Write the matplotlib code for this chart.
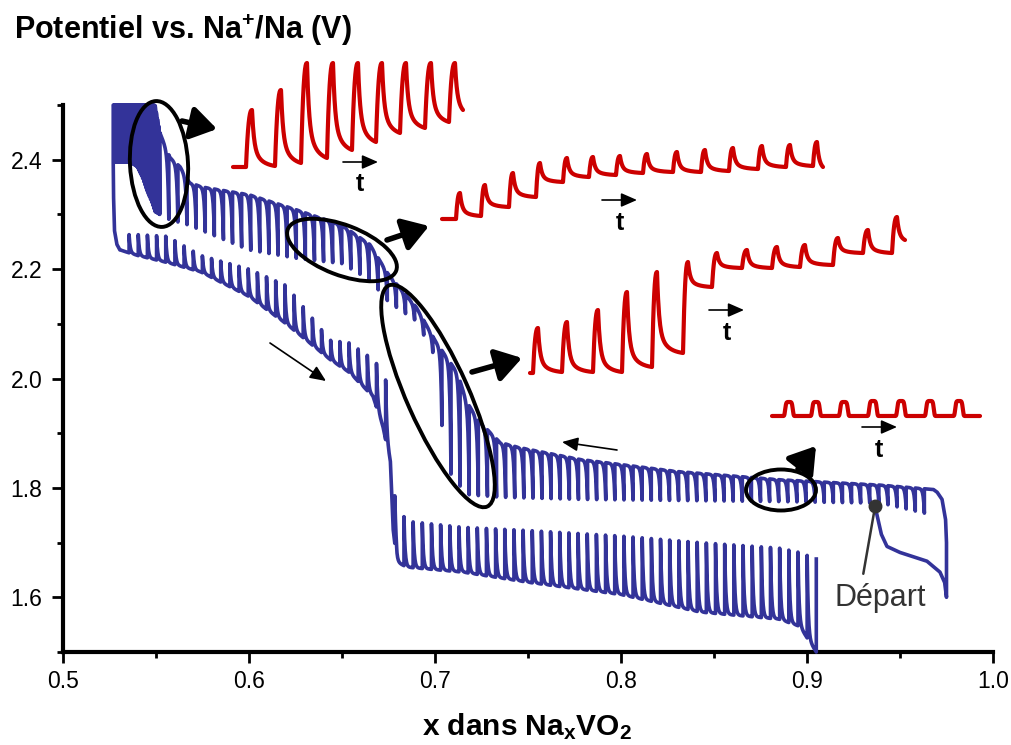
import numpy as np
import matplotlib.pyplot as plt
from matplotlib.patches import Ellipse

plt.rcParams['font.family'] = ['Liberation Sans', 'DejaVu Sans']
plt.rcParams['mathtext.fontset'] = 'custom'
plt.rcParams['mathtext.rm'] = 'Liberation Sans'
plt.rcParams['mathtext.bf'] = 'Liberation Sans:bold'
plt.rcParams['mathtext.it'] = 'Liberation Sans:italic'

BLUE = '#333399'
RED = '#cc0000'
W, H = 1011, 745

# ---------------------------------------------------------------
# GITT curve (x in Na_xVO2, potential in V)
# ---------------------------------------------------------------
# first discharge from the starting point ("Départ") then start of charge
dep_x = [0.9366, 0.938, 0.940, 0.943, 0.950, 0.9645, 0.9715, 0.974, 0.975,
         0.975, 0.9745, 0.9726, 0.970, 0.968]
dep_v = [1.766, 1.745, 1.715, 1.693, 1.682, 1.666, 1.646, 1.627, 1.600,
         1.700, 1.742, 1.779, 1.792, 1.797]

# charge (upper branch): potential under current and relaxed potential
up_x = [0.527, 0.536, 0.540, 0.5425, 0.545, 0.548, 0.5495, 0.552, 0.5575,
        0.563, 0.568, 0.575, 0.600, 0.625, 0.650, 0.665, 0.675, 0.690,
        0.700, 0.706, 0.712, 0.717, 0.723, 0.728, 0.735, 0.745, 0.778,
        0.830, 0.885, 0.940, 0.968]
up_top = [2.50, 2.50, 2.50, 2.50, 2.50, 2.50, 2.50, 2.45, 2.404,
          2.387, 2.358, 2.35, 2.336, 2.309, 2.28, 2.245, 2.19, 2.13,
          2.07, 2.04, 2.011, 1.958, 1.925, 1.907, 1.883, 1.874, 1.852,
          1.83, 1.815, 1.805, 1.797]
up_rest = [2.396, 2.396, 2.387, 2.369, 2.345, 2.32, 2.305, 2.30, 2.29,
           2.285, 2.28, 2.27, 2.235, 2.22, 2.21, 2.18, 2.14, 2.105,
           2.04, 1.837, 1.81, 1.788, 1.786, 1.785, 1.783, 1.782, 1.779,
           1.777, 1.775, 1.772, 1.75]
up_n_pulses = 85        # regular pulses between 0.968 and 0.552
up_n_dense = 41         # short pulses at the 2.5 V cut-off

# discharge (lower branch): potential under current and relaxed potential
lo_start_x = [0.527, 0.5272, 0.5277, 0.529, 0.5306]
lo_start_v = [2.396, 2.33, 2.27, 2.245, 2.235]
lo_x = [0.5306, 0.540, 0.556, 0.574, 0.600, 0.620, 0.6435, 0.654, 0.6667,
        0.672, 0.676, 0.6775, 0.6796, 0.685, 0.715, 0.751, 0.800, 0.8425,
        0.885, 0.896, 0.905]
lo_base = [2.235, 2.225, 2.212, 2.195, 2.15, 2.10, 2.035, 2.011, 1.967,
           1.912, 1.847, 1.724, 1.664, 1.655, 1.646, 1.627, 1.605, 1.573,
           1.56, 1.547, 1.50]
lo_top = [2.263, 2.263, 2.26, 2.225, 2.20, 2.17, 2.07, 2.065, 2.035,
          2.013, 1.97, 1.80, 1.766, 1.739, 1.728, 1.722, 1.712, 1.70,
          1.69, 1.682, 1.67]
lo_n_pulses = 76

start_point = (0.9366, 1.766)

# ---------------------------------------------------------------
# red zoomed transients (figure pixels)
# ---------------------------------------------------------------
ins1_start = (233, 167)
ins1_px = [252, 281, 307, 333, 358, 382, 406, 431, 455]
ins1_peak = [110, 90, 63, 63, 63, 63, 63, 63, 63]
ins1_rest = [167, 166, 163, 158, 150, 142, 133, 128, 122]
ins1_end = (463, 110)

ins2_start = (442, 219)
ins2_px = [460, 485, 513, 540, 567, 593, 620, 647, 677, 705, 733, 762, 790, 817]
ins2_peak = [193, 185, 173, 163, 158, 157, 156, 154, 152, 150, 148, 146, 145, 142]
ins2_rest = [219, 216, 207, 197, 182, 177, 175, 173, 172, 172, 171, 169, 167, 166]
ins2_end = (823, 167)

ins3_start = (530, 373)
ins3_px = [538, 567, 598, 627, 657, 688, 717, 747, 777, 805, 838, 868, 897]
ins3_peak = [328, 322, 310, 292, 272, 262, 253, 250, 247, 245, 238, 230, 217]
ins3_rest = [373, 372, 372, 372, 367, 353, 287, 268, 268, 267, 265, 253, 253]
ins3_end = (905, 240)

ins4_span = (772, 980)
ins4_base = 416
ins4_px = [789, 816, 844, 873, 901, 930, 959]
ins4_peak = [402, 402, 402, 401, 401, 401, 401]

# annotations (figure pixels)
ellipses = [((159, 164), 126, 58, 87), ((342, 250), 116, 50, 21),
            ((438, 396), 242, 62, 66), ((781, 490), 70, 41, 0)]
thick_arrows = [((182, 121), (217, 129)), ((387, 240), (429, 226)),
                ((472, 372), (522, 358)), ((798, 469), (816, 446))]
thin_arrows = [((270, 343), (326, 381)), ((617, 450), (562, 442))]
t_arrows = [((343, 162), (378, 162)), ((602, 200), (637, 200)),
            ((709, 310), (744, 310)), ((862, 427), (897, 427))]
t_labels = [(360, 184), (620, 223), (727, 333), (879, 450)]


def pulsed_branch(edges, env_x, drive_env, rest_env, v_first):
    """Each pulse relaxes instantly at its end (vertical segment)."""
    xs, vs = [], []
    for k in range(len(edges) - 1):
        xa, xb = edges[k], edges[k + 1]
        s = np.linspace(0, 1, 30)
        xx = xa + (xb - xa) * s
        drive = np.interp(xx, env_x, drive_env)
        v0 = v_first if k == 0 else np.interp(xa, env_x, rest_env)
        vv = v0 + (drive - v0) * (1 - np.exp(-s / 0.12))
        xs += list(xx) + [xb]
        vs += list(vv) + [np.interp(xb, env_x, rest_env)]
    return xs, vs


def spike_trace(start, px, peak, rest, end, rise_w, fast, tau1, tau2):
    xs, ys = [start[0]], [start[1]]
    for k in range(len(px)):
        u = np.linspace(0, 1, 10)
        xs += list(px[k] - rise_w + rise_w * u)
        ys += list(rest[k] + (peak[k] - rest[k]) * (1 - (1 - u) ** 2.5))
        if k + 1 < len(px):
            x_next, r_next = px[k + 1] - rise_w, rest[k + 1]
        else:
            x_next, r_next = end
        T = x_next - px[k]
        t = np.linspace(0, T, 50)
        g = fast * np.exp(-t / tau1) + (1 - fast) * np.exp(-t / tau2)
        gT = fast * np.exp(-T / tau1) + (1 - fast) * np.exp(-T / tau2)
        f = (g - gT) / (1 - gT)
        xs += list(px[k] + t)
        ys += list(r_next + (peak[k] - r_next) * f)
    return xs, ys


fig = plt.figure(figsize=(W / 100, H / 100), dpi=100)
ax = fig.add_axes([63 / W, 1 - 652 / H, 930 / W, (652 - 105) / H])

# charge branch (x decreasing), then discharge branch (x increasing)
up_edges = list(np.linspace(0.968, 0.552, up_n_pulses + 1)) + \
    list(np.linspace(0.552, 0.527, up_n_dense + 1)[1:])
cx, cv = pulsed_branch(up_edges, up_x, up_top, up_rest, up_top[-1])
lo_edges = list(np.linspace(lo_x[0], lo_x[-1], lo_n_pulses + 1))
dx, dv = pulsed_branch(lo_edges, lo_x, lo_base, lo_top, lo_base[0])

all_x = dep_x + cx + lo_start_x + dx
all_v = dep_v + cv + lo_start_v + dv
ax.plot(all_x, all_v, color=BLUE, lw=2.6, solid_joinstyle='round', clip_on=False, zorder=3)

ax.plot(*start_point, 'o', ms=9, color='#333333', zorder=4)
ax.annotate('Départ', xy=start_point, xytext=(0.9392, 1.598), textcoords='data',
            ha='center', va='center', fontsize=22, color='#333333',
            arrowprops=dict(arrowstyle='-', color='#333333', lw=1.8,
                            relpos=(0.3, 1.0), shrinkA=5, shrinkB=0))

ax.set_xlim(0.5, 1.0)
ax.set_ylim(1.5, 2.5)
ax.set_xticks(np.arange(0.5, 1.01, 0.1))
ax.set_xticks(np.arange(0.55, 1.0, 0.1), minor=True)
ax.set_yticks(np.arange(1.6, 2.41, 0.2))
ax.set_yticks(np.arange(1.5, 2.51, 0.2), minor=True)
ax.xaxis.set_major_formatter(plt.FormatStrFormatter('%.1f'))
ax.yaxis.set_major_formatter(plt.FormatStrFormatter('%.1f'))
for side in ['top', 'right']:
    ax.spines[side].set_visible(False)
for side in ['left', 'bottom']:
    ax.spines[side].set_linewidth(3)
ax.tick_params(which='major', length=8, width=2, labelsize=16.5, direction='out')
ax.tick_params(which='minor', length=4, width=2, direction='out')
ax.tick_params(axis='x', which='major', pad=5)
ax.tick_params(axis='y', which='major', pad=7)

fig.text(14 / W, 1 - 30 / H, r'Potentiel vs. Na$^{\mathbf{+}}$/Na (V)',
         fontsize=22, fontweight='bold', ha='left', va='center')
fig.text(527 / W, 1 - 727 / H, r'x dans Na$_{\mathbf{x}}$VO$_{\mathbf{2}}$',
         fontsize=21.5, fontweight='bold', ha='center', va='center')

# overlay in figure pixels for the zoomed transients and annotations
ov = fig.add_axes([0, 0, 1, 1], zorder=5)
ov.set_xlim(0, W)
ov.set_ylim(H, 0)
ov.axis('off')
ov.patch.set_alpha(0)

for args in [(ins1_start, ins1_px, ins1_peak, ins1_rest, ins1_end, 6, 0.65, 2.0, 9),
             (ins2_start, ins2_px, ins2_peak, ins2_rest, ins2_end, 4, 0.7, 2.0, 9),
             (ins3_start, ins3_px, ins3_peak, ins3_rest, ins3_end, 5, 0.7, 2.0, 9)]:
    rx, ry = spike_trace(*args)
    ov.plot(rx, ry, color=RED, lw=3.0, solid_joinstyle='round', solid_capstyle='round')

bx = np.linspace(ins4_span[0], ins4_span[1], 600)
by = np.full_like(bx, ins4_base, dtype=float)
for c, p in zip(ins4_px, ins4_peak):
    by -= (ins4_base - p) * np.exp(-((bx - c) / 4.0) ** 6)
ov.plot(bx, by, color=RED, lw=3.0, solid_capstyle='round')

for (cx0, cy0), w, h, ang in ellipses:
    ov.add_patch(Ellipse((cx0, cy0), w, h, angle=ang, fill=False, ec='black', lw=2.8))

for tail, head in thick_arrows:
    ov.annotate('', xy=head, xytext=tail,
                arrowprops=dict(arrowstyle='-|>,head_length=0.7,head_width=0.45',
                                lw=4, color='black', mutation_scale=22,
                                shrinkA=0, shrinkB=0))
for tail, head in thin_arrows + t_arrows:
    ov.annotate('', xy=head, xytext=tail,
                arrowprops=dict(arrowstyle='-|>,head_length=0.8,head_width=0.35',
                                lw=1.2, color='black', mutation_scale=12,
                                shrinkA=0, shrinkB=0))
for x, y in t_labels:
    ov.text(x, y, 't', fontsize=18, fontweight='bold', ha='center', va='center')

fig.savefig('out.png', dpi=100)
